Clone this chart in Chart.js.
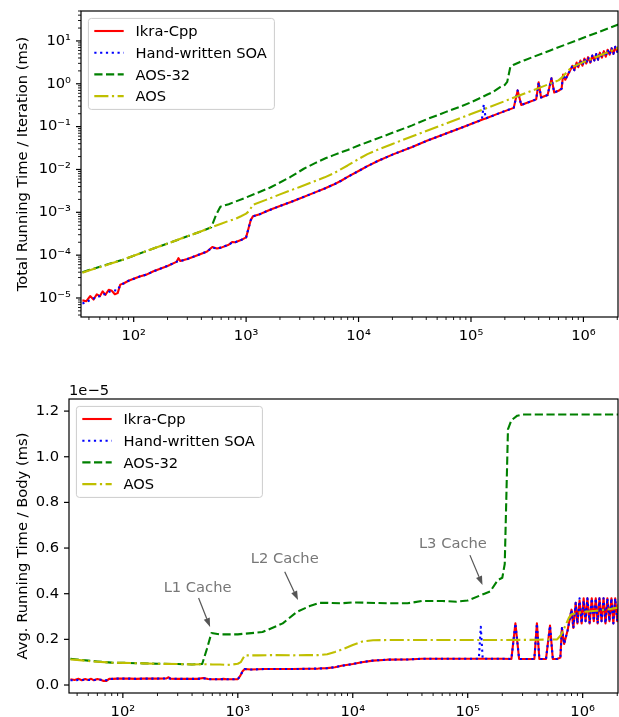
<!DOCTYPE html>
<html><head><meta charset="utf-8">
<script src="https://cdn.jsdelivr.net/npm/chart.js@4.4.1/dist/chart.umd.min.js"></script>
<style>
html,body{margin:0;padding:0;background:#fff;width:619px;height:717px;overflow:hidden}
.box{position:absolute;left:0;width:619px}
#w1{top:0;height:345px}
#w2{top:350px;height:367px}
</style></head><body>
<div class="box" id="w1"><canvas id="c1"></canvas></div>
<div class="box" id="w2"><canvas id="c2"></canvas></div>
<script>
// ---------------- DATA ----------------
const seriesNames = ['Ikra-Cpp', 'Hand-written SOA', 'AOS-32', 'AOS'];

// number of bodies (x) for Ikra-Cpp and Hand-written SOA
const soaBodies = [35,38,41,44,47,50,53,56,60,64,68,72,76,82,90,100,115,130,150,170,200,240,250,260,300,350,400,450,500,550,600,700,750,800,900,1000,1050,1100,1150,1300,1500,1700,2000,2500,3000,4000,5000,6000,7000,8000,10000,12000,15000,20000,30000,40000,60000,80000,100000,125000,130000,135000,140000,170000,200000,240000,260000,280000,320000,380000,400000,420000,480000,520000,550000,600000,640000,660000,690000,740000,800000,830000,870000,900000,940000,980000,1020000,1060000,1100000,1150000,1200000,1250000,1300000,1350000,1400000,1460000,1520000,1580000,1640000,1710000,1780000,1850000,1920000,2000000,2080000];
// number of bodies (x) for AOS
const aosBodies = [35,40,50,60,80,100,150,200,300,400,500,600,700,800,900,1000,1060,1150,1500,2000,3000,4000,5000,6000,7000,8000,10000,12000,15000,20000,40000,100000,200000,400000,600000,650000,700000,760000,800000,1000000,1300000,1600000,2080000];
// number of bodies (x) for AOS-32
const aos32Bodies = [35,40,50,60,80,100,150,200,300,400,490,540,590,700,1000,1640,2460,3260,4230,5140,6000,8000,10000,20000,30000,40000,60000,80000,100000,140000,157000,183000,200000,210000,224000,240000,270000,300000,500000,1000000,2080000];

// Top panel: total running time / iteration (ms)
const totalIkra = [8.8e-6,8.4e-6,1.11e-5,9.2e-6,1.22e-5,1.1e-5,1.43e-5,1.18e-5,1.56e-5,1.47e-5,1.22e-5,1.3e-5,2.05e-5,2.21e-5,2.52e-5,2.8e-5,3.22e-5,3.51e-5,4.2e-5,4.76e-5,5.6e-5,6.96e-5,8.5e-5,7.28e-5,8.1e-5,9.45e-5,1.08e-4,1.22e-4,1.55e-4,1.43e-4,1.5e-4,1.75e-4,2.03e-4,2.0e-4,2.25e-4,2.6e-4,4.2e-4,6.6e-4,8.05e-4,8.84e-4,1.04e-3,1.19e-3,1.4e-3,1.75e-3,2.1e-3,2.84e-3,3.6e-3,4.44e-3,5.46e-3,6.72e-3,9.2e-3,1.2e-2,1.6e-2,2.22e-2,3.36e-2,4.6e-2,6.9e-2,9.2e-2,0.115,0.144,0.15,0.155,0.161,0.196,0.23,0.274,0.70,0.319,0.365,0.433,1.08,0.479,0.547,1.35,0.627,0.684,0.77,1.65,1.24,1.78,2.64,2.08,3.13,2.43,3.48,2.65,3.88,2.97,4.18,3.11,4.56,3.5,4.94,3.65,5.32,4.09,5.78,4.27,6.23,4.79,6.76,5.0,7.3,5.6,7.7];
const totalSoa = [7.4e-6,8.0e-6,9.0e-6,9.7e-6,1.08e-5,1.1e-5,1.22e-5,1.23e-5,1.38e-5,1.47e-5,1.5e-5,1.51e-5,1.98e-5,2.21e-5,2.52e-5,2.8e-5,3.22e-5,3.51e-5,4.2e-5,4.76e-5,5.6e-5,6.96e-5,7.25e-5,7.28e-5,8.1e-5,9.45e-5,1.08e-4,1.22e-4,1.5e-4,1.43e-4,1.5e-4,1.75e-4,1.95e-4,2.0e-4,2.25e-4,2.6e-4,4.2e-4,6.6e-4,8.05e-4,8.84e-4,1.04e-3,1.19e-3,1.4e-3,1.75e-3,2.1e-3,2.84e-3,3.6e-3,4.44e-3,5.46e-3,6.72e-3,9.2e-3,1.2e-2,1.6e-2,2.22e-2,3.36e-2,4.6e-2,6.9e-2,9.2e-2,0.115,0.144,0.33,0.155,0.161,0.196,0.23,0.274,0.70,0.319,0.365,0.433,1.08,0.479,0.547,1.35,0.627,0.684,0.77,1.65,1.24,1.78,2.64,2.08,3.13,2.43,3.57,2.65,3.78,2.97,4.18,3.11,4.56,3.5,4.94,3.65,5.32,4.09,5.78,4.27,6.23,4.79,6.76,5.0,7.3,5.6,7.7];
const totalAos32 = [4.0e-5,4.5e-5,5.35e-5,6.2e-5,7.8e-5,9.7e-5,1.43e-4,1.86e-4,2.76e-4,3.6e-4,4.5e-4,8.6e-4,1.35e-3,1.55e-3,2.22e-3,3.8e-3,6.6e-3,1.04e-2,1.46e-2,1.85e-2,2.16e-2,2.86e-2,3.62e-2,7.16e-2,0.107,0.147,0.221,0.292,0.37,0.56,0.644,0.842,0.94,1.11,2.51,2.78,3.19,3.56,5.93,11.85,24.6];
const totalAos = [3.9e-5,4.4e-5,5.25e-5,6.1e-5,7.8e-5,9.7e-5,1.43e-4,1.86e-4,2.76e-4,3.6e-4,4.55e-4,5.4e-4,6.3e-4,7.0e-4,8.1e-4,9.3e-4,1.06e-3,1.5e-3,1.95e-3,2.62e-3,3.9e-3,5.24e-3,6.55e-3,8.1e-3,1.02e-2,1.24e-2,1.75e-2,2.28e-2,2.94e-2,3.94e-2,7.88e-2,0.197,0.394,0.792,1.2,1.43,1.79,2.24,2.48,3.2,4.23,5.28,7.07];

// Bottom panel: avg. running time / body, in units of 1e-5 ms
const bodyIkra = [0.025,0.022,0.027,0.021,0.026,0.022,0.027,0.021,0.026,0.023,0.018,0.018,0.027,0.027,0.028,0.028,0.028,0.027,0.028,0.028,0.028,0.029,0.034,0.028,0.027,0.027,0.027,0.027,0.031,0.026,0.025,0.025,0.027,0.025,0.025,0.026,0.04,0.06,0.07,0.068,0.069,0.07,0.07,0.07,0.07,0.071,0.072,0.074,0.078,0.084,0.092,0.1,0.107,0.111,0.112,0.115,0.115,0.115,0.115,0.115,0.115,0.115,0.115,0.115,0.115,0.114,0.27,0.114,0.114,0.114,0.27,0.114,0.114,0.26,0.114,0.114,0.12,0.25,0.18,0.24,0.33,0.25,0.36,0.27,0.37,0.27,0.38,0.28,0.38,0.27,0.38,0.28,0.38,0.27,0.38,0.28,0.38,0.27,0.38,0.28,0.38,0.27,0.38,0.28,0.37];
const bodySoa = [0.021,0.021,0.022,0.022,0.023,0.022,0.023,0.022,0.023,0.023,0.022,0.021,0.026,0.027,0.028,0.028,0.028,0.027,0.028,0.028,0.028,0.029,0.029,0.028,0.027,0.027,0.027,0.027,0.03,0.026,0.025,0.025,0.026,0.025,0.025,0.026,0.04,0.06,0.07,0.068,0.069,0.07,0.07,0.07,0.07,0.071,0.072,0.074,0.078,0.084,0.092,0.1,0.107,0.111,0.112,0.115,0.115,0.115,0.115,0.115,0.255,0.115,0.115,0.115,0.115,0.114,0.27,0.114,0.114,0.114,0.27,0.114,0.114,0.26,0.114,0.114,0.12,0.25,0.18,0.24,0.33,0.25,0.36,0.27,0.38,0.27,0.37,0.28,0.38,0.27,0.38,0.28,0.38,0.27,0.38,0.28,0.38,0.27,0.38,0.28,0.38,0.27,0.38,0.28,0.37];
const bodyAos32 = [0.115,0.112,0.107,0.103,0.098,0.097,0.095,0.093,0.092,0.090,0.092,0.160,0.228,0.222,0.222,0.232,0.270,0.320,0.346,0.360,0.360,0.358,0.362,0.358,0.358,0.368,0.368,0.365,0.370,0.400,0.410,0.460,0.470,0.530,1.120,1.160,1.180,1.185,1.185,1.185,1.185];
const bodyAos = [0.112,0.110,0.105,0.102,0.098,0.097,0.095,0.093,0.092,0.090,0.091,0.090,0.090,0.088,0.090,0.093,0.100,0.130,0.130,0.131,0.130,0.131,0.131,0.135,0.145,0.155,0.175,0.190,0.196,0.197,0.197,0.197,0.197,0.198,0.200,0.220,0.255,0.295,0.310,0.320,0.325,0.330,0.340];

// axis ticks
const xMajorExps = [2, 3, 4, 5, 6];
const topYMajorExps = [-5, -4, -3, -2, -1, 0, 1];
const bodyYTicks = [0.0, 0.2, 0.4, 0.6, 0.8, 1.0, 1.2];
const bodyOffsetLabel = '1e\u22125';

// cache annotations (bottom panel, data coordinates)
const cacheNotes = [
  {label: 'L1 Cache', text: [447, 0.425], tail: [456, 0.381], head: [574, 0.254]},
  {label: 'L2 Cache', text: [2560, 0.552], tail: [2560, 0.496], head: [3340, 0.372]},
  {label: 'L3 Cache', text: [74300, 0.618], tail: [104500, 0.569], head: [134500, 0.438]}
];

// ---------------- STYLE ----------------
const FONT = 'DejaVu Sans';
const FS = 14.7;
const LW = 2.1;
const styles = [
  {color: '#ff0000', dash: [], order: 4},
  {color: '#0000ff', dash: [2.2, 3.6], order: 3},
  {color: '#008000', dash: [8.2, 3.5], order: 2},
  {color: '#bfbf00', dash: [14.1, 3.5, 2.2, 3.5], order: 1}
];

const SUP = {'0':'\u2070','1':'\u00b9','2':'\u00b2','3':'\u00b3','4':'\u2074','5':'\u2075','6':'\u2076','7':'\u2077','8':'\u2078','9':'\u2079','-':'\u207b'};
function powLabel(v) {
  const e = Math.round(Math.log10(v));
  return '10' + String(e).split('').map(c => SUP[c]).join('');
}
function logTicks(min, max, majorExps) {
  const out = [];
  const k0 = Math.floor(Math.log10(min)), k1 = Math.ceil(Math.log10(max));
  for (let k = k0; k <= k1; k++) {
    for (let m = 1; m <= 9; m++) {
      const v = m * Math.pow(10, k);
      if (v >= min && v <= max) out.push({value: v, major: m === 1 && majorExps.includes(k)});
    }
  }
  return out;
}
const pts = (xs, ys) => xs.map((x, i) => ({x: x, y: ys[i]}));

function makeDatasets(arrs) {
  return arrs.map((a, i) => ({
    label: seriesNames[i],
    data: pts(a[0], a[1]),
    borderColor: styles[i].color,
    borderDash: styles[i].dash,
    borderWidth: LW,
    order: styles[i].order,
    pointRadius: 0,
    tension: 0,
    fill: false,
    borderJoinStyle: 'round',
    borderCapStyle: 'butt'
  }));
}

// ---------------- DECORATION PLUGIN ----------------
const decor = {
  id: 'decor',
  afterDraw(chart) {
    const ctx = chart.ctx, a = chart.chartArea;
    ctx.save();
    // tick marks
    ctx.strokeStyle = '#000';
    ['x', 'y'].forEach(id => {
      const s = chart.scales[id];
      s.ticks.forEach(t => {
        if (t.value < s.min || t.value > s.max) return;
        const p = s.getPixelForValue(t.value);
        const len = t.major ? 5 : 3;
        ctx.lineWidth = t.major ? 1.2 : 0.9;
        ctx.beginPath();
        if (id === 'x') { ctx.moveTo(p, a.bottom); ctx.lineTo(p, a.bottom + len); }
        else { ctx.moveTo(a.left, p); ctx.lineTo(a.left - len, p); }
        ctx.stroke();
      });
    });
    // frame
    ctx.lineWidth = 1.2;
    ctx.strokeRect(a.left, a.top, a.right - a.left, a.bottom - a.top);

    const opts = chart.options.plugins.decor || {};
    // offset label
    if (opts.offsetLabel) {
      ctx.fillStyle = '#000';
      ctx.font = FS + 'px "' + FONT + '"';
      ctx.textAlign = 'left';
      ctx.textBaseline = 'alphabetic';
      ctx.fillText(opts.offsetLabel, a.left, a.top - 4);
    }
    // annotations
    if (opts.notes) {
      const xs = chart.scales.x, ys = chart.scales.y;
      opts.notes.forEach(n => {
        const tx = xs.getPixelForValue(n.text[0]), ty = ys.getPixelForValue(n.text[1]);
        const x0 = xs.getPixelForValue(n.tail[0]), y0 = ys.getPixelForValue(n.tail[1]);
        const x1 = xs.getPixelForValue(n.head[0]), y1 = ys.getPixelForValue(n.head[1]);
        ctx.fillStyle = '#777777';
        ctx.font = FS + 'px "' + FONT + '"';
        ctx.textAlign = 'center';
        ctx.textBaseline = 'middle';
        ctx.fillText(n.label, tx, ty);
        const ang = Math.atan2(y1 - y0, x1 - x0);
        const hl = 9, hw = 3.2;
        const bx = x1 - hl * Math.cos(ang), by = y1 - hl * Math.sin(ang);
        ctx.strokeStyle = '#555555';
        ctx.fillStyle = '#555555';
        ctx.lineWidth = 1.2;
        ctx.setLineDash([]);
        ctx.beginPath(); ctx.moveTo(x0, y0); ctx.lineTo(bx, by); ctx.stroke();
        ctx.beginPath(); ctx.moveTo(x1, y1);
        ctx.lineTo(bx + hw * Math.sin(ang), by - hw * Math.cos(ang));
        ctx.lineTo(bx - hw * Math.sin(ang), by + hw * Math.cos(ang));
        ctx.closePath(); ctx.fill();
      });
    }
    // legend
    const bx = a.left + 7.4, by = a.top + 7.4, bw = 186, bh = 91, r = 3;
    ctx.setLineDash([]);
    ctx.beginPath();
    ctx.moveTo(bx + r, by); ctx.lineTo(bx + bw - r, by); ctx.arcTo(bx + bw, by, bx + bw, by + r, r);
    ctx.lineTo(bx + bw, by + bh - r); ctx.arcTo(bx + bw, by + bh, bx + bw - r, by + bh, r);
    ctx.lineTo(bx + r, by + bh); ctx.arcTo(bx, by + bh, bx, by + bh - r, r);
    ctx.lineTo(bx, by + r); ctx.arcTo(bx, by, bx + r, by, r);
    ctx.closePath();
    ctx.fillStyle = 'rgba(255,255,255,0.8)';
    ctx.fill();
    ctx.strokeStyle = '#cccccc';
    ctx.lineWidth = 1;
    ctx.stroke();
    chart.data.datasets.forEach((ds, i) => {
      const cy = by + 12.6 + 21.7 * i;
      ctx.strokeStyle = ds.borderColor;
      ctx.lineWidth = ds.borderWidth;
      ctx.setLineDash(ds.borderDash || []);
      ctx.lineCap = 'butt';
      ctx.beginPath(); ctx.moveTo(bx + 5.9, cy); ctx.lineTo(bx + 35.3, cy); ctx.stroke();
      ctx.setLineDash([]);
      ctx.fillStyle = '#000';
      ctx.font = FS + 'px "' + FONT + '"';
      ctx.textAlign = 'left';
      ctx.textBaseline = 'alphabetic';
      ctx.fillText(ds.label, bx + 47.1, cy + 5.2);
    });
    ctx.restore();
  }
};

const tickFont = {family: FONT, size: FS};
function xScale(tl) {
  return {
    type: 'logarithmic', min: 34, max: 2.03e6,
    afterBuildTicks: s => { s.ticks = logTicks(34, 2.03e6, xMajorExps); },
    grid: {display: true, drawOnChartArea: false, drawTicks: true, tickLength: tl, color: 'rgba(0,0,0,0)'},
    border: {display: false},
    ticks: {autoSkip: false, maxRotation: 0, minRotation: 0, padding: 0, color: '#000', font: tickFont,
      callback: (v, i, t) => t[i].major ? powLabel(v) : ''}
  };
}
function yTitle(text) {
  return {display: true, text: text, color: '#000', font: {family: FONT, size: FS, lineHeight: 1.2}, padding: {top: 14.5, bottom: 0}};
}
const common = {
  responsive: true, maintainAspectRatio: false, animation: false, devicePixelRatio: 1,
  events: [],
  plugins: {legend: {display: false}, tooltip: {enabled: false}}
};

// ---------------- TOP CHART ----------------
new Chart(document.getElementById('c1'), {
  type: 'line',
  data: {datasets: makeDatasets([[soaBodies, totalIkra], [soaBodies, totalSoa], [aos32Bodies, totalAos32], [aosBodies, totalAos]])},
  options: Object.assign({}, common, {
    layout: {padding: {left: 0, top: 11, right: 1, bottom: 0}},
    plugins: {legend: {display: false}, tooltip: {enabled: false}, decor: {}},
    scales: {
      x: Object.assign(xScale(10.5), {afterFit: s => { s.height = 28; }}),
      y: {
        type: 'logarithmic', min: 3.6e-6, max: 50,
        afterBuildTicks: s => { s.ticks = logTicks(3.6e-6, 50, topYMajorExps); },
        afterFit: s => { s.width = 81; },
        grid: {display: true, drawOnChartArea: false, drawTicks: true, tickLength: 10, color: 'rgba(0,0,0,0)'},
        border: {display: false},
        ticks: {autoSkip: false, padding: 0, color: '#000', font: tickFont,
          callback: (v, i, t) => t[i].major ? powLabel(v) : ''},
        title: yTitle('Total Running Time / Iteration (ms)')
      }
    }
  }),
  plugins: [decor]
});

// ---------------- BOTTOM CHART ----------------
new Chart(document.getElementById('c2'), {
  type: 'line',
  data: {datasets: makeDatasets([[soaBodies, bodyIkra], [soaBodies, bodySoa], [aos32Bodies, bodyAos32], [aosBodies, bodyAos]])},
  options: Object.assign({}, common, {
    layout: {padding: {left: 0, top: 49, right: 1, bottom: 0}},
    plugins: {legend: {display: false}, tooltip: {enabled: false}, decor: {offsetLabel: bodyOffsetLabel, notes: cacheNotes}},
    scales: {
      x: Object.assign(xScale(10), {afterFit: s => { s.height = 24; }}),
      y: {
        type: 'linear', min: -0.035, max: 1.253,
        afterBuildTicks: s => { s.ticks = bodyYTicks.map(v => ({value: v, major: true})); },
        afterFit: s => { s.width = 69; },
        grid: {display: true, drawOnChartArea: false, drawTicks: true, tickLength: 10, color: 'rgba(0,0,0,0)'},
        border: {display: false},
        ticks: {autoSkip: false, padding: 0, color: '#000', font: tickFont,
          callback: v => v.toFixed(1)},
        title: yTitle('Avg. Running Time / Body (ms)')
      }
    }
  }),
  plugins: [decor]
});
</script>
</body></html>
